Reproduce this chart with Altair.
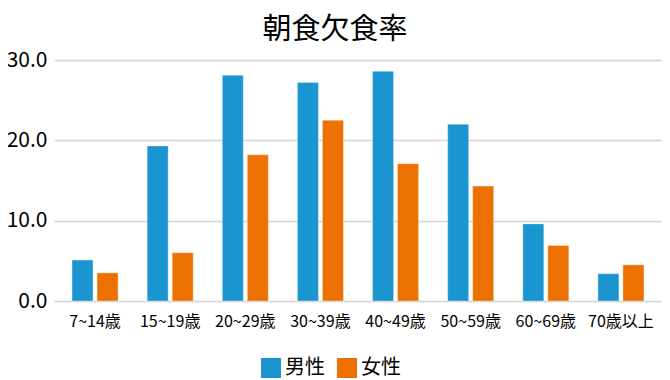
import altair as alt
import pandas as pd

categories = ["7~14歳", "15~19歳", "20~29歳", "30~39歳", "40~49歳", "50~59歳", "60~69歳", "70歳以上"]
series = ["男性", "女性"]
male = [5.1, 19.3, 28.1, 27.2, 28.6, 22.0, 9.6, 3.4]
female = [3.5, 6.0, 18.2, 22.5, 17.1, 14.3, 6.9, 4.5]
colors = ["#1b95d0", "#ed7100"]

rows = []
for c, m, f in zip(categories, male, female):
    rows.append({"age": c, "sex": series[0], "rate": m})
    rows.append({"age": c, "sex": series[1], "rate": f})
df = pd.DataFrame(rows)

FONT = "Noto Sans CJK JP"

chart = alt.Chart(df).mark_bar(
    stroke="#ffffff", strokeWidth=1, strokeOpacity=0.35
).encode(
    x=alt.X("age:N", sort=categories, title=None,
            scale=alt.Scale(paddingInner=0.387, paddingOuter=0.24),
            axis=alt.Axis(labelAngle=0, labelFontSize=16, labelFont=FONT, labelColor="#000000",
                          ticks=False, domain=False, labelPadding=12, grid=False)),
    xOffset=alt.XOffset("sex:N", sort=series,
                        scale=alt.Scale(paddingInner=0.16, paddingOuter=0)),
    y=alt.Y("rate:Q", title=None,
            scale=alt.Scale(domain=[0, 30], nice=False),
            axis=alt.Axis(values=[0, 10, 20, 30], format=".1f", labelFontSize=21, labelFont=FONT,
                          labelColor="#000000", ticks=False, domain=False, labelPadding=7,
                          grid=True, gridColor="#d4d4d4", gridWidth=1.5)),
    color=alt.Color("sex:N", sort=series,
                    scale=alt.Scale(domain=series, range=colors),
                    legend=alt.Legend(title=None, orient="none", direction="horizontal",
                                      legendX=207, legendY=298,
                                      symbolType="square", symbolSize=400,
                                      symbolStrokeWidth=0, symbolOpacity=1,
                                      labelFontSize=20, labelFont=FONT, labelColor="#000000",
                                      labelOffset=4, columnPadding=12)),
).properties(
    width=608,
    height=241,
    padding={"left": 46, "top": 52, "right": 0, "bottom": 79},
    autosize="none",
    title=alt.TitleParams("朝食欠食率", fontSize=29, font=FONT, fontWeight="normal",
                          color="#000000", anchor="middle", dx=-23, offset=4),
).configure_view(stroke=None)

chart.save("out.html", embed_options={"renderer": "svg", "actions": False})
